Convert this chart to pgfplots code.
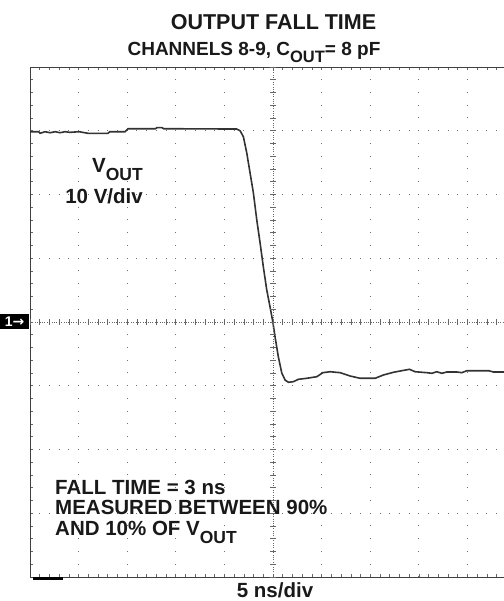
\documentclass[border=0pt]{standalone}
\usepackage{fontspec}
\setmainfont{Liberation Sans}
\newfontfamily\dejavu{DejaVu Sans}
\usepackage{pgfplots}
\pgfplotsset{compat=1.18}

% lowered, slightly smaller subscript as on the scope screenshot
\newcommand\sub[1]{\raisebox{-7.4bp}{\fontsize{17.5bp}{18bp}\selectfont #1}}
\newcommand\subt[1]{\raisebox{-7bp}{\fontsize{16.5bp}{17bp}\selectfont #1}}
\tikzset{lbl/.style={inner sep=0pt, font=\fontsize{20.5bp}{21bp}\selectfont\bfseries, text=black!90}}

\begin{document}
\begin{tikzpicture}
\path[use as bounding box] (0,0) rectangle (504bp,601bp);

\begin{axis}[
    at={(30bp,24bp)}, anchor=south west,
    scale only axis, width=474bp, height=510bp,
    xmin=-5, xmax=4.75, ymin=-4, ymax=4,
    axis x line*=box, axis y line*=left,
    axis line style={black!75, line width=1bp},
    xtick={-4,...,4}, ytick={-3,...,3},
    minor xtick={-5,-4.8,...,4.8}, minor ytick={-4,-3.8,...,4},
    xticklabels={}, yticklabels={},
    tick align=inside, major tick length=3bp, minor tick length=3bp,
    tick style={black!60, line width=0.7bp},
    grid=major,
    major x grid style={black!55, line width=1bp, dash pattern=on 1bp off 11.75bp, dash phase=0.5bp},
    major y grid style={black!55, line width=1bp, dash pattern=on 1bp off 8.723bp, dash phase=0.5bp},
]
% V_OUT trace, in divisions (x: 5 ns/div, y: 10 V/div)
\addplot[black!80, line width=1.6bp] coordinates {
    (-5.000,2.985) (-4.820,2.985) (-4.794,2.960) (-4.691,2.985) (-4.588,2.969)
    (-4.480,2.985) (-4.383,2.969) (-4.280,2.985) (-4.177,2.975) (-3.990,2.985)
    (-3.807,2.960) (-3.395,2.960) (-3.360,2.985) (-3.045,2.985) (-2.984,3.032)
    (-2.420,3.032) (-2.387,3.048) (-2.284,3.048) (-2.250,3.032) (-0.747,3.027)
    (-0.679,3.001) (-0.611,2.907) (-0.541,2.651) (-0.473,2.337) (-0.405,2.024)
    (-0.335,1.600) (-0.267,1.239) (-0.200,0.863) (-0.130,0.502) (-0.062,0.235)
    (-0.006,0.005) (0.041,-0.235) (0.109,-0.549) (0.179,-0.800) (0.247,-0.910)
    (0.315,-0.946) (0.418,-0.936) (0.521,-0.899) (0.693,-0.883) (0.899,-0.858)
    (1.023,-0.795) (1.173,-0.780) (1.379,-0.795) (1.584,-0.847) (1.790,-0.883)
    (2.099,-0.883) (2.270,-0.831) (2.475,-0.789) (2.648,-0.764) (2.805,-0.742)
    (2.922,-0.780) (3.163,-0.795) (3.265,-0.805) (3.368,-0.780) (3.471,-0.805)
    (3.574,-0.784) (3.780,-0.784) (3.883,-0.795) (3.986,-0.764) (4.430,-0.764)
    (4.533,-0.784) (4.800,-0.784)
};
\end{axis}

% centre graticule lines with their small division marks
\draw[black!60, line width=0.8bp, dash pattern=on 0.8bp off 1.6bp] (30bp,279bp) -- (504bp,279bp);
\draw[black!60, line width=0.8bp, dash pattern=on 0.8bp off 1.6bp] (273.08bp,24bp) -- (273.08bp,534bp);
\foreach \k in {0,...,48}
    \draw[black!60, line width=0.7bp] ({30bp+\k*9.723bp},276bp) -- ++(0,6bp);
\foreach \k in {0,...,40}
    \draw[black!60, line width=0.7bp] (270.08bp,{24bp+\k*12.75bp}) -- ++(6bp,0);

% channel marker and ground marker
\node[fill=black, text=white, inner sep=0pt, minimum width=29bp, minimum height=15bp,
      anchor=west, font=\fontsize{14bp}{14bp}\selectfont\bfseries] at (0,279bp) {1{\dejavu →}};
\draw[black, line width=2.5bp] (33bp,22.5bp) -- (63bp,22.5bp);

% titles and annotations
\node[lbl, anchor=base, font=\fontsize{21.5bp}{22bp}\selectfont\bfseries] at (273.5bp,571.7bp) {OUTPUT FALL TIME};
\node[lbl, anchor=base, font=\fontsize{19bp}{20bp}\selectfont\bfseries] at (254bp,545bp) {CHANNELS 8-9, C\subt{OUT}= 8 pF};
\node[lbl, anchor=base east] at (143bp,428bp) {V\sub{OUT}};
\node[lbl, anchor=base east] at (143bp,397bp) {10 V/div};
\node[lbl, anchor=base west] at (55bp,106.7bp) {FALL TIME = 3 ns};
\node[lbl, anchor=base west] at (55bp,86bp) {MEASURED BETWEEN 90\%};
\node[lbl, anchor=base west] at (55bp,65bp) {AND 10\% OF V\sub{OUT}};
\node[lbl, anchor=base] at (275bp,3.5bp) {5 ns/div};
\end{tikzpicture}
\end{document}
